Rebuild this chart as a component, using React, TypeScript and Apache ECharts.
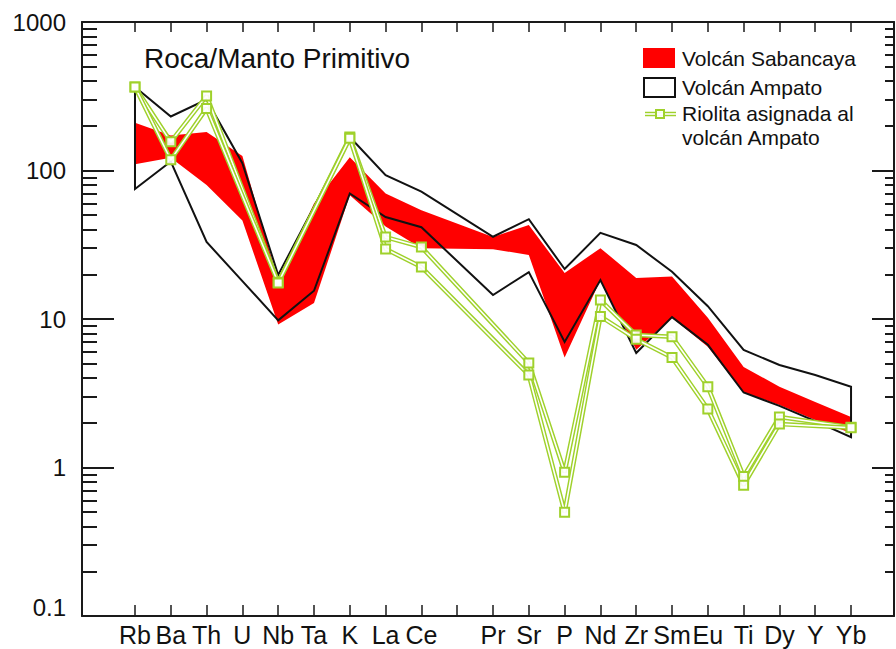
import React, { useEffect, useRef } from 'react';
import * as echarts from 'echarts';

// ---- data ----
const elements = ['Rb', 'Ba', 'Th', 'U', 'Nb', 'Ta', 'K', 'La', 'Ce', 'Pb', 'Pr', 'Sr', 'P', 'Nd', 'Zr', 'Sm', 'Eu', 'Ti', 'Dy', 'Y', 'Yb'];
const tickLabels = ['Rb', 'Ba', 'Th', 'U', 'Nb', 'Ta', 'K', 'La', 'Ce', '', 'Pr', 'Sr', 'P', 'Nd', 'Zr', 'Sm', 'Eu', 'Ti', 'Dy', 'Y', 'Yb'];
const yTickLabels = ['0.1', '1', '10', '100', '1000'];

const sabancayaUpper = [210, 172, 182, 125, 18, 60, 123, 70, 54, null, 35.6, 43, 20.4, 30, 18.9, 19.3, 10.2, 4.75, 3.5, 2.76, 2.19];
const sabancayaLower = [110, 122, 80, 46, 9.2, 12.8, 68, 42, 30, null, 29.5, 27, 5.5, 18.3, 6.2, 10.2, 6.5, 3.2, 2.64, 2.09, 1.71];
const ampatoUpper = [365, 231, 300, 112, 19.8, 57, 168, 93, 72, null, 35.8, 47, 21.7, 38, 31.5, 20.8, 12.2, 6.2, 4.9, 4.2, 3.5];
const ampatoLower = [75, 115, 33, 18, 9.8, 15.5, 70, 48.6, 41.5, null, 14.5, 20.7, 7.0, 18.3, 5.9, 10.3, 6.7, 3.2, 2.6, 2.05, 1.6];
const rioliteA = [365, 156, 318, null, 17.7, null, 168, 35.6, 30.5, null, null, 5.06, 0.93, 13.4, 7.8, 7.6, 3.5, 0.87, 2.19, null, 1.87];
const rioliteB = [365, 118, 262, null, 17.5, null, 165, 29.6, 22.4, null, null, 4.2, 0.5, 10.4, 7.3, 5.5, 2.48, 0.76, 1.96, null, 1.85];

const legendNames = ['Volcán Sabancaya', 'Volcán Ampato', 'Riolita asignada al', 'volcán Ampato'];
const titleText = 'Roca/Manto Primitivo';

// ---- styling ----
const FONT = '"Liberation Sans", Arial, Helvetica, sans-serif';
const RED = '#ff0000';
const GREEN = '#9fd12b';
const AXIS = '#1a1a1a';
const XMIN = -1.48;
const XMAX = 21.2;

const pts = (arr: (number | null)[]) =>
  arr.map((v, i) => (v == null ? null : [i, v])).filter((p) => p != null) as number[][];

const tickIdx = elements.map((_, i) => i);
const labelIdx = tickLabels.map((l, i) => (l ? i : -1)).filter((i) => i >= 0);
const minorLogs: number[] = [];
for (let d = -1; d < 3; d++) for (let k = 2; k <= 9; k++) minorLogs.push(d + Math.log10(k));

function bandSeries(upper: (number | null)[], lower: (number | null)[], style: any) {
  return {
    type: 'custom',
    xAxisIndex: 0,
    yAxisIndex: 0,
    silent: true,
    data: [[0, 1]],
    renderItem: (params: any, api: any) => {
      if (params.dataIndex !== 0) return null;
      const up = pts(upper).map((p) => api.coord(p));
      const lo = pts(lower).map((p) => api.coord(p)).reverse();
      return { type: 'polygon', shape: { points: up.concat(lo) }, style };
    },
  };
}

function rioliteSeries(arr: (number | null)[]) {
  const data = pts(arr);
  return [
    {
      type: 'line',
      xAxisIndex: 0,
      yAxisIndex: 0,
      data,
      silent: true,
      symbol: 'none',
      lineStyle: { color: GREEN, width: 4.5 },
      itemStyle: { color: GREEN },
    },
    {
      type: 'line',
      xAxisIndex: 0,
      yAxisIndex: 0,
      data,
      silent: true,
      symbol: 'rect',
      symbolSize: 9,
      lineStyle: { color: '#ffffff', width: 1.6 },
      itemStyle: { color: 'rgba(255,255,255,0.9)', borderColor: GREEN, borderWidth: 2 },
    },
  ];
}

const textStyle = (text: string, x: number, y: number, size: number) => ({
  type: 'text',
  x,
  y,
  silent: true,
  style: { text, font: `${size}px ${FONT}`, fill: '#111', textAlign: 'left', textVerticalAlign: 'middle' },
});

const option: any = {
  animation: false,
  backgroundColor: '#ffffff',
  grid: { left: 82, right: 2, top: 22, bottom: 33, containLabel: false, outerBoundsMode: 'none' },
  xAxis: [
    {
      type: 'value',
      position: 'bottom',
      min: XMIN,
      max: XMAX,
      axisLine: { show: true, onZero: false, lineStyle: { color: AXIS, width: 2 } },
      axisTick: { show: true, inside: true, length: 11, customValues: tickIdx, lineStyle: { color: AXIS, width: 1.5 } },
      axisLabel: {
        show: true,
        customValues: labelIdx,
        formatter: (v: number) => tickLabels[Math.round(v)] ?? '',
        fontSize: 25,
        lineHeight: 25,
        fontFamily: FONT,
        color: '#111',
        margin: 6,
      },
      splitLine: { show: false },
    },
    {
      type: 'value',
      position: 'top',
      min: XMIN,
      max: XMAX,
      axisLine: { show: true, onZero: false, lineStyle: { color: AXIS, width: 2 } },
      axisTick: { show: true, inside: true, length: 10, customValues: tickIdx, lineStyle: { color: AXIS, width: 1.5 } },
      axisLabel: { show: false },
      splitLine: { show: false },
    },
  ],
  yAxis: [
    {
      type: 'log',
      logBase: 10,
      min: 0.1,
      max: 1000,
      position: 'left',
      axisLine: { show: true, onZero: false, lineStyle: { color: AXIS, width: 2 } },
      axisTick: { show: true, inside: true, length: 32, lineStyle: { color: AXIS, width: 2 } },
      axisLabel: {
        show: true,
        fontSize: 24,
        fontFamily: FONT,
        color: '#111',
        margin: 16,
        formatter: (v: number) => {
          const i = Math.round(Math.log10(v)) + 1;
          const t = yTickLabels[i] ?? '';
          return i === 0 ? `{lo|${t}}` : t;
        },
        rich: { lo: { fontSize: 24, fontFamily: FONT, color: '#111', padding: [0, 0, 18, 0] } },
      },
      splitLine: { show: false },
    },
    {
      type: 'value',
      min: -1,
      max: 3,
      position: 'left',
      axisLine: { show: false, onZero: false },
      axisTick: { show: true, inside: true, length: 15, customValues: minorLogs, lineStyle: { color: AXIS, width: 2 } },
      axisLabel: { show: false },
      splitLine: { show: false },
    },
    {
      type: 'log',
      logBase: 10,
      min: 0.1,
      max: 1000,
      position: 'right',
      axisLine: { show: true, onZero: false, lineStyle: { color: AXIS, width: 2 } },
      axisTick: { show: true, inside: true, length: 22, lineStyle: { color: AXIS, width: 2 } },
      axisLabel: { show: false },
      splitLine: { show: false },
    },
    {
      type: 'value',
      min: -1,
      max: 3,
      position: 'right',
      axisLine: { show: false, onZero: false },
      axisTick: { show: true, inside: true, length: 9, customValues: minorLogs, lineStyle: { color: AXIS, width: 2 } },
      axisLabel: { show: false },
      splitLine: { show: false },
    },
  ],
  series: [
    bandSeries(sabancayaUpper, sabancayaLower, { fill: RED }),
    bandSeries(ampatoUpper, ampatoLower, { fill: 'none', stroke: '#111', lineWidth: 2 }),
    ...rioliteSeries(rioliteA),
    ...rioliteSeries(rioliteB),
  ],
  graphic: [
    textStyle(titleText, 144, 58, 28),
    { type: 'rect', silent: true, shape: { x: 643, y: 48, width: 32, height: 20 }, style: { fill: RED } },
    textStyle(legendNames[0], 682, 58, 21),
    { type: 'rect', silent: true, shape: { x: 644, y: 78, width: 31, height: 19 }, style: { fill: 'none', stroke: '#111', lineWidth: 2 } },
    textStyle(legendNames[1], 682, 87, 21),
    { type: 'line', silent: true, shape: { x1: 645, y1: 114, x2: 676, y2: 114 }, style: { stroke: GREEN, lineWidth: 4.5 } },
    { type: 'line', silent: true, shape: { x1: 645, y1: 114, x2: 676, y2: 114 }, style: { stroke: '#fff', lineWidth: 1.6 } },
    { type: 'rect', silent: true, shape: { x: 656, y: 110, width: 8, height: 8 }, style: { fill: 'rgba(255,255,255,0.9)', stroke: GREEN, lineWidth: 2 } },
    textStyle(legendNames[2], 682, 113, 21),
    textStyle(legendNames[3], 682, 137, 21),
  ],
};

export default function App() {
  const ref = useRef<HTMLDivElement>(null);
  useEffect(() => {
    if (!ref.current) return;
    const chart = echarts.init(ref.current, null, { renderer: 'svg' });
    chart.setOption(option);
    return () => chart.dispose();
  }, []);
  return (
    <div
      ref={ref}
      style={{ position: 'fixed', left: 0, top: 0, width: 896, height: 649, background: '#fff' }}
    />
  );
}
